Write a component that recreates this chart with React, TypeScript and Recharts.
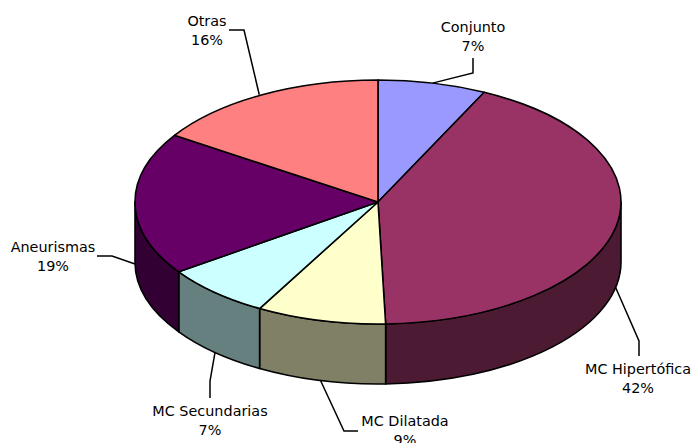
import { Cell, Pie, PieChart } from "recharts";

const names = ["Conjunto", "MC Hipertófica", "MC Dilatada", "MC Secundarias", "Aneurismas", "Otras"];
const values = [7.2, 42.3, 8.6, 7.2, 18.9, 15.8];
const shown = ["7%", "42%", "9%", "7%", "19%", "16%"];

const topColors = ["#9999FF", "#993366", "#FFFFCC", "#CCFFFF", "#660066", "#FF8080"];
const wallColors = ["#4D4D80", "#4D1A33", "#808066", "#668080", "#330033", "#804040"];

// label placement: leader elbow, leader end, text centre, first baseline
const elbows = [[473, 73], [639, 341], [344, 431], [210, 381], [112, 256], [244, 30]];
const leaderEnds = [[473, 58], [639, 356], [358, 431], [210, 398], [97, 256], [229, 30]];
const textPos = [[473, 32], [638, 374], [405, 426], [210, 416], [53, 252], [207, 26]];
const leaderNudge = [0, 0, 0, 0, 0, -3];

const RATIO = 122 / 243;
const DEPTH = 60;
const FONT = "'DejaVu Sans', sans-serif";

const data = names.map((name, i) => ({ name, value: values[i] }));

const pt = (cx: number, cy: number, r: number, t: number) => {
  const a = (t * Math.PI) / 180;
  return [cx + r * Math.sin(a), cy - r * RATIO * Math.cos(a)];
};

// recharts angles run counter-clockwise from 3 o'clock, the ellipse uses clockwise from 12
const toClock = (angle: number) => 90 - angle;

const TopSlice = (props: any) => {
  const { cx, cy, outerRadius: r, startAngle, endAngle, fill } = props;
  const t1 = toClock(startAngle);
  const t2 = toClock(endAngle);
  const [x1, y1] = pt(cx, cy, r, t1);
  const [x2, y2] = pt(cx, cy, r, t2);
  const large = t2 - t1 > 180 ? 1 : 0;
  const d = `M${cx},${cy} L${x1},${y1} A${r},${r * RATIO} 0 ${large} 1 ${x2},${y2} Z`;
  return <path d={d} fill={fill} stroke="#000" strokeWidth={1.6} strokeLinejoin="round" />;
};

const WallSlice = (props: any) => {
  const { cx, cy, outerRadius: r, startAngle, endAngle, fill } = props;
  const t1 = Math.max(toClock(startAngle), 90);
  const t2 = Math.min(toClock(endAngle), 270);
  if (t2 <= t1) return <g />;
  const [x1, y1] = pt(cx, cy, r, t1);
  const [x2, y2] = pt(cx, cy, r, t2);
  const ry = r * RATIO;
  const d = `M${x1},${y1} A${r},${ry} 0 0 1 ${x2},${y2} L${x2},${y2 + DEPTH} A${r},${ry} 0 0 0 ${x1},${y1 + DEPTH} Z`;
  return <path d={d} fill={fill} stroke="#000" strokeWidth={1.6} strokeLinejoin="round" />;
};

const SliceLabel = (props: any) => {
  const { cx, cy, outerRadius: r, midAngle, index } = props;
  const t = toClock(midAngle);
  const norm = ((t % 360) + 360) % 360;
  const [sx, sy0] = pt(cx, cy, r, norm);
  const sy = norm > 90 && norm <= 270 ? sy0 + DEPTH : sy0;
  const [ex, ey] = elbows[index];
  const [lx, ly] = leaderEnds[index];
  const [tx, ty] = textPos[index];
  return (
    <g>
      <polyline points={`${sx + leaderNudge[index]},${sy} ${ex},${ey} ${lx},${ly}`} fill="none" stroke="#000" strokeWidth={1.5} />
      <text x={tx} y={ty} textAnchor="middle" fontFamily={FONT} fontSize={14.4} fill="#000">
        {names[index]}
      </text>
      <text x={tx} y={ty + 19} textAnchor="middle" fontFamily={FONT} fontSize={14.4} fill="#000">
        {shown[index]}
      </text>
    </g>
  );
};

const App = () => {
  return (
    <div style={{ position: "absolute", left: 0, top: 0, background: "#fff" }}>
      <PieChart width={693} height={443} margin={{ top: 0, right: 0, bottom: 0, left: 0 }}>
        <Pie
          data={data}
          dataKey="value"
          cx={378}
          cy={202}
          outerRadius={243}
          startAngle={90}
          endAngle={-270}
          shape={WallSlice}
          isAnimationActive={false}
          label={false}
        >
          {data.map((d, i) => (
            <Cell key={d.name} fill={wallColors[i]} />
          ))}
        </Pie>
        <Pie
          data={data}
          dataKey="value"
          cx={378}
          cy={202}
          outerRadius={243}
          startAngle={90}
          endAngle={-270}
          shape={TopSlice}
          isAnimationActive={false}
          label={SliceLabel}
          labelLine={false}
        >
          {data.map((d, i) => (
            <Cell key={d.name} fill={topColors[i]} />
          ))}
        </Pie>
      </PieChart>
    </div>
  );
};

export default App;
